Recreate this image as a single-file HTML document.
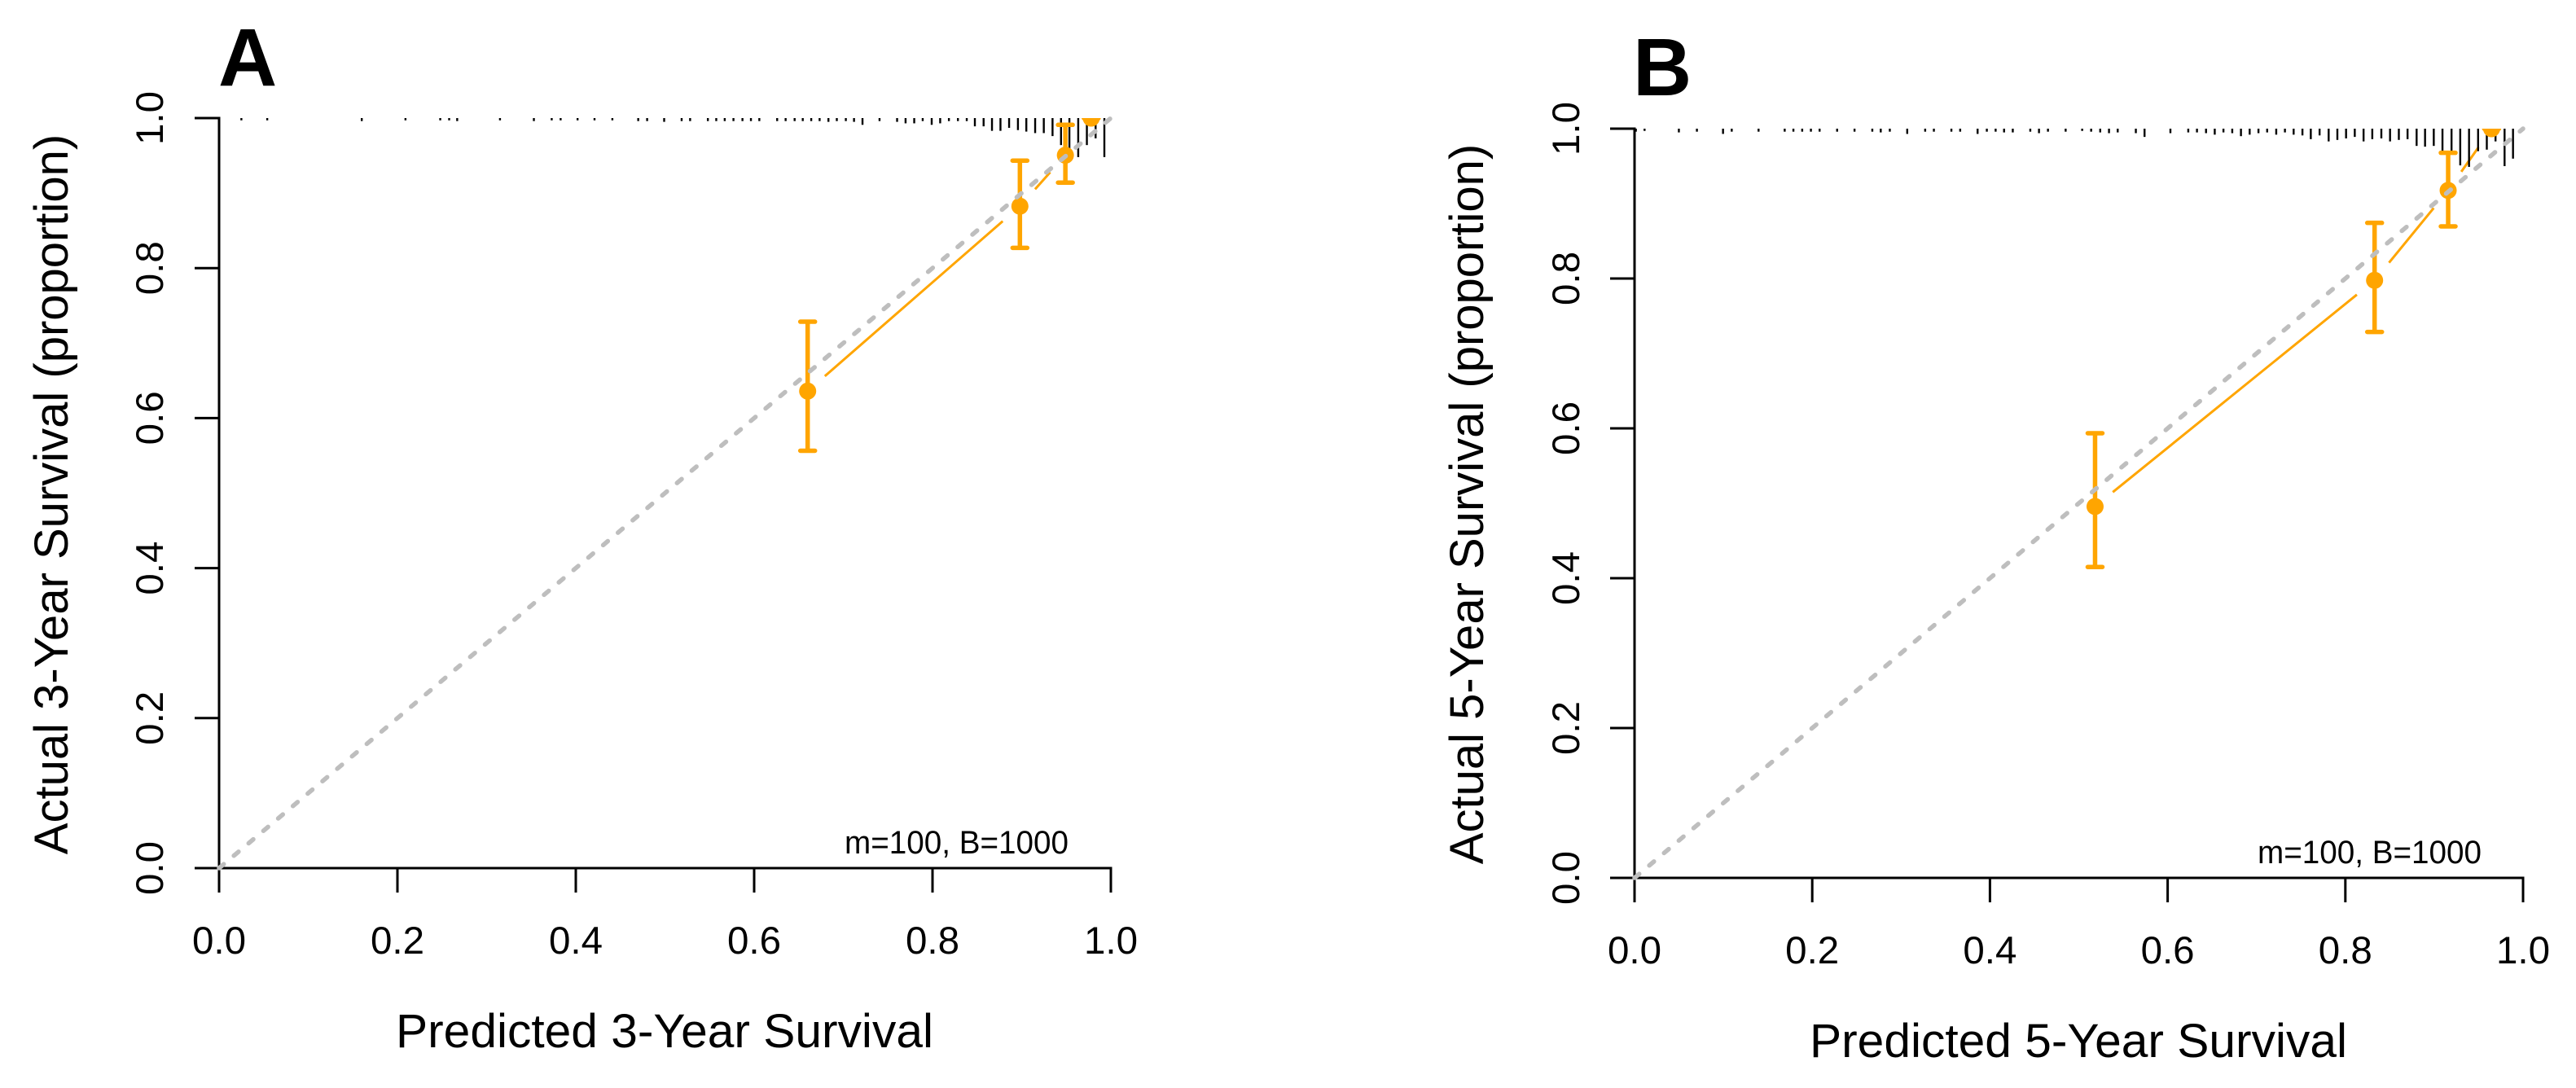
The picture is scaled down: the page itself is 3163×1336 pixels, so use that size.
<!DOCTYPE html>
<html lang="en">
<head>
<meta charset="utf-8">
<title>Calibration curves</title>
<style>
html,body{margin:0;padding:0;background:#fff;width:3163px;height:1336px;overflow:hidden}
svg{display:block}
text{font-family:"Liberation Sans",Arial,sans-serif;fill:#000}
</style>
</head>
<body>
<svg id="chart" xmlns="http://www.w3.org/2000/svg" width="3163" height="1336" viewBox="0 0 3163 1336"></svg>
<script>
const axisTicks = [0, 0.2, 0.4, 0.6, 0.8, 1];
const axisTickLabels = ["0.0", "0.2", "0.4", "0.6", "0.8", "1.0"];
const identityLine = [0, 1];

const predA = [0.66, 0.898, 0.949, 0.978];
const actualA = [0.636, 0.8825, 0.9505, 1];
const lowerA = [0.5565, 0.827, 0.914, 1];
const upperA = [0.7285, 0.9433, 0.991, 1];
const rugBinsA = [0.025,0.054,0.160,0.209,0.248,0.258,0.267,0.315,0.353,0.373,0.383,0.402,0.421,0.441,0.470,0.480,0.4991,0.5187,0.5282,0.5481,0.5575,0.5670,0.5768,0.5869,0.5964,0.6058,0.6258,0.6353,0.6454,0.6545,0.6640,0.6734,0.6833,0.6927,0.7028,0.7120,0.7215,0.7406,0.7603,0.7698,0.7795,0.7890,0.7991,0.8086,0.8184,0.8285,0.8384,0.8475,0.8573,0.8667,0.8762,0.8859,0.8958,0.9052,0.9151,0.9248,0.9346,0.9441,0.9535,0.9634,0.9731,0.9829,0.9927];
const rugHeightsA = [0.003,0.003,0.004,0.003,0.003,0.003,0.004,0.003,0.004,0.003,0.003,0.003,0.003,0.003,0.004,0.004,0.005,0.004,0.004,0.004,0.004,0.004,0.004,0.004,0.004,0.004,0.004,0.004,0.004,0.004,0.004,0.004,0.005,0.004,0.004,0.005,0.009,0.004,0.005,0.007,0.007,0.004,0.009,0.007,0.004,0.004,0.004,0.011,0.011,0.017,0.017,0.013,0.016,0.018,0.020,0.020,0.024,0.036,0.042,0.052,0.036,0.027,0.052];

const predB = [0.5183, 0.8329, 0.9157, 0.9646];
const actualB = [0.4957, 0.7976, 0.9176, 1];
const lowerB = [0.415, 0.7287, 0.8696, 1];
const upperB = [0.5935, 0.8743, 0.9678, 1];
const rugBinsB = [0.0015,0.0113,0.0499,0.0702,0.0996,0.1094,0.1396,0.1690,0.1788,0.1887,0.1985,0.2083,0.2280,0.2476,0.2676,0.2771,0.2873,0.3069,0.3271,0.3369,0.3566,0.3665,0.3861,0.3965,0.4064,0.4159,0.4257,0.4454,0.4552,0.4653,0.4852,0.5038,0.5139,0.5241,0.5340,0.5438,0.5642,0.5740,0.6031,0.6232,0.6330,0.6432,0.6530,0.6628,0.6727,0.6825,0.6923,0.7022,0.7120,0.7222,0.7320,0.7418,0.7517,0.7611,0.7710,0.7812,0.7910,0.8008,0.8106,0.8205,0.8303,0.8405,0.8503,0.8602,0.8700,0.8802,0.8897,0.8995,0.9093,0.9195,0.9293,0.9392,0.9494,0.9592,0.9690,0.9792,0.9887];
const rugHeightsB = [0.004,0.003,0.005,0.004,0.007,0.004,0.004,0.004,0.004,0.004,0.004,0.004,0.004,0.004,0.004,0.005,0.004,0.007,0.004,0.004,0.004,0.004,0.007,0.004,0.004,0.005,0.005,0.004,0.006,0.004,0.004,0.003,0.004,0.005,0.006,0.005,0.006,0.011,0.006,0.005,0.005,0.006,0.008,0.005,0.006,0.010,0.008,0.006,0.005,0.008,0.005,0.008,0.009,0.014,0.009,0.017,0.015,0.013,0.011,0.017,0.014,0.013,0.017,0.015,0.014,0.023,0.024,0.023,0.034,0.034,0.049,0.051,0.030,0.028,0.017,0.050,0.040];

const NS = 'http://www.w3.org/2000/svg';
const root = document.getElementById('chart');

function mk(tag, parent, attrs, txt) {
  const el = document.createElementNS(NS, tag);
  for (const k in attrs) el.setAttribute(k, attrs[k]);
  if (txt !== undefined) el.textContent = txt;
  parent.appendChild(el);
  return el;
}

function drawPanel(p) {
  const sx = v => p.x0 + v * p.w;
  const sy = v => p.y0 - v * p.h;
  const clipId = 'clip-' + p.id;

  const g = mk('g', root, {});
  
  

  const defs = mk('defs', g, {});
  const cp = mk('clipPath', defs, { id: clipId });
  mk('rect', cp, { x: sx(0), y: sy(1), width: p.w, height: p.h });

  const letter = mk('text', g, { x: p.letterX, y: p.letterY, 'font-size': 100, 'font-weight': 'bold' }, p.letter);
  
  

  const plot = mk('g', g, { 'clip-path': 'url(#' + clipId + ')' });
  
  

  // connecting segments (R type "b": gap around each point)
  const gap = 28;
  for (let i = 0; i < p.pred.length - 1; i++) {
    const ax = sx(p.pred[i]), ay = sy(p.actual[i]);
    const bx = sx(p.pred[i + 1]), by = sy(p.actual[i + 1]);
    const d = Math.hypot(bx - ax, by - ay);
    if (d <= 2 * gap) continue;
    const ux = (bx - ax) / d, uy = (by - ay) / d;
    const seg = mk('line', plot, { x1: ax + ux * gap, y1: ay + uy * gap, x2: bx - ux * gap, y2: by - uy * gap, stroke: '#ffa500', 'stroke-width': 3 });
    
    
  }

  // rug / spike histogram on top edge
  for (let i = 0; i < p.rugBins.length; i++) {
    const t = mk('line', plot, { x1: sx(p.rugBins[i]), y1: sy(1), x2: sx(p.rugBins[i]), y2: sy(1 - p.rugHeights[i]), stroke: '#000', 'stroke-width': 2.4 });
    
    
  }

  // error bars and points
  for (let i = 0; i < p.pred.length; i++) {
    const cx = sx(p.pred[i]);
    const eb = mk('line', plot, { x1: cx, y1: sy(p.upper[i]), x2: cx, y2: sy(p.lower[i]), stroke: '#ffa500', 'stroke-width': 5.5 });
    
    
    const c1 = mk('line', plot, { x1: cx - 9, y1: sy(p.upper[i]), x2: cx + 9, y2: sy(p.upper[i]), stroke: '#ffa500', 'stroke-width': 5.5, 'stroke-linecap': 'round' });
    
    
    const c2 = mk('line', plot, { x1: cx - 9, y1: sy(p.lower[i]), x2: cx + 9, y2: sy(p.lower[i]), stroke: '#ffa500', 'stroke-width': 5.5, 'stroke-linecap': 'round' });
    
    
    const pt = mk('circle', plot, { cx: cx, cy: sy(p.actual[i]), r: 10.5, fill: '#ffa500' });
    
    
  }

  // axes
  const xAxis = mk('line', g, { x1: sx(0) - 1.5, y1: sy(0), x2: sx(1) + 1.5, y2: sy(0), stroke: '#000', 'stroke-width': 3 });
  
  
  const yAxis = mk('line', g, { x1: sx(0), y1: sy(1) - 1.5, x2: sx(0), y2: sy(0) + 1.5, stroke: '#000', 'stroke-width': 3 });
  
  

  axisTicks.forEach((v, i) => {
    const xt = mk('line', g, { x1: sx(v), y1: sy(0), x2: sx(v), y2: sy(0) + 30, stroke: '#000', 'stroke-width': 3 });
    
    
    const xl = mk('text', g, { x: sx(v), y: p.xTickBase, 'font-size': 47.5, 'text-anchor': 'middle' }, axisTickLabels[i]);
    
    

    const yt = mk('line', g, { x1: sx(0) - 30, y1: sy(v), x2: sx(0), y2: sy(v), stroke: '#000', 'stroke-width': 3 });
    
    
    const yl = mk('text', g, { 'font-size': 47.5, 'text-anchor': 'middle', transform: 'translate(' + p.yTickBase + ',' + sy(v) + ') rotate(-90)' }, axisTickLabels[i]);
    
    
  });

  // identity line (drawn above the axes, as in the reference corner)
  const diag = mk('line', g, { x1: sx(identityLine[0]), y1: sy(identityLine[0]), x2: sx(identityLine[1]), y2: sy(identityLine[1]), stroke: '#bebebe', 'stroke-width': 5.5, 'stroke-dasharray': '7.5 16.2', 'stroke-linecap': 'round' });
  
  

  const xTitle = mk('text', g, { x: p.xTitleX, y: p.xTitleY, 'font-size': 58, 'text-anchor': 'middle', textLength: 660, lengthAdjust: 'spacingAndGlyphs' }, p.xTitle);
  
  

  const yTitle = mk('text', g, { 'font-size': 58, 'text-anchor': 'middle', transform: 'translate(' + p.yTitleX + ',' + p.yTitleY + ') rotate(-90)' }, p.yTitle);
  
  

  const note = mk('text', g, { x: p.noteX, y: p.noteY, 'font-size': 40, textLength: 275, lengthAdjust: 'spacingAndGlyphs' }, 'm=100, B=1000');
  
  
}

drawPanel({
  id: 'a', letter: 'A', x0: 269, y0: 1066, w: 1095, h: 921,
  letterX: 268, letterY: 105, xTickBase: 1171, yTickBase: 200,
  xTitle: 'Predicted 3-Year Survival', xTitleX: 816, xTitleY: 1286,
  yTitle: 'Actual 3-Year Survival (proportion)', yTitleX: 83, yTitleY: 607,
  noteX: 1037, noteY: 1048,
  pred: predA, actual: actualA, lower: lowerA, upper: upperA, rugBins: rugBinsA, rugHeights: rugHeightsA
});
drawPanel({
  id: 'b', letter: 'B', x0: 2007, y0: 1078, w: 1091, h: 920,
  letterX: 2005, letterY: 117, xTickBase: 1183, yTickBase: 1939,
  xTitle: 'Predicted 5-Year Survival', xTitleX: 2552, xTitleY: 1298,
  yTitle: 'Actual 5-Year Survival (proportion)', yTitleX: 1821, yTitleY: 619,
  noteX: 2772, noteY: 1060,
  pred: predB, actual: actualB, lower: lowerB, upper: upperB, rugBins: rugBinsB, rugHeights: rugHeightsB
});
</script>
</body>
</html>
